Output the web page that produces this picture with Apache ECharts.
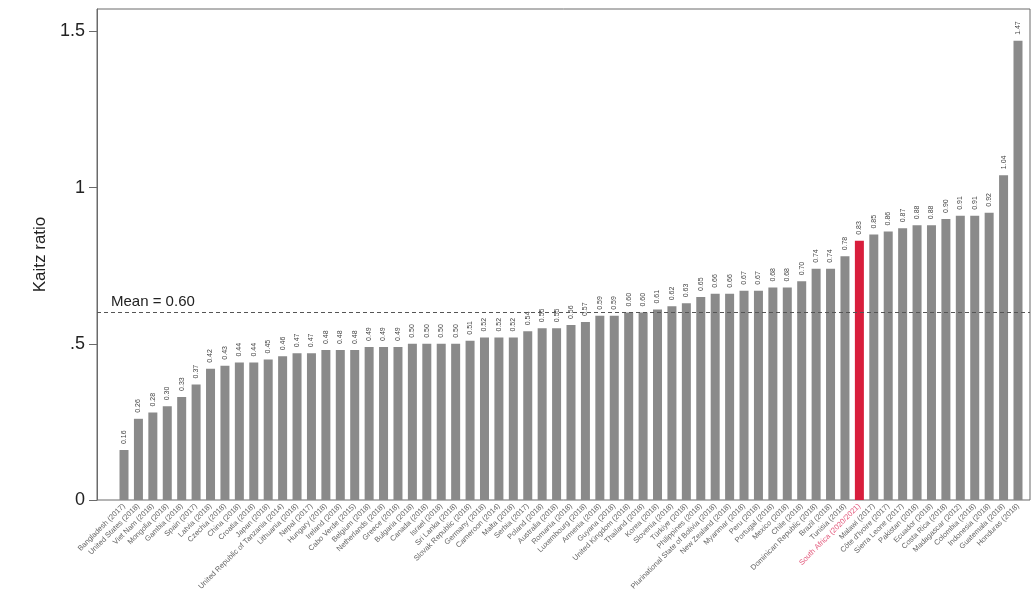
<!DOCTYPE html>
<html><head><meta charset="utf-8">
<script src="https://cdn.jsdelivr.net/npm/echarts@6/dist/echarts.min.js"></script>
<style>html,body{margin:0;padding:0;background:#fff}#c{width:1035px;height:606px}</style>
</head><body><div id="c"></div>
<script>
const countries = [
 "Bangladesh (2017)","United States (2018)","Viet Nam (2018)","Mongolia (2018)","Gambia (2018)",
 "Spain (2017)","Latvia (2018)","Czechia (2018)","China (2018)","Croatia (2018)",
 "Japan (2018)","United Republic of Tanzania (2014)","Lithuania (2018)","Nepal (2017)","Hungary (2018)",
 "Ireland (2018)","Cabo Verde (2015)","Belgium (2018)","Netherlands (2018)","Greece (2018)",
 "Bulgaria (2018)","Canada (2018)","Israel (2018)","Sri Lanka (2018)","Slovak Republic (2018)",
 "Germany (2018)","Cameroon (2014)","Malta (2018)","Serbia (2017)","Poland (2018)",
 "Australia (2018)","Romania (2018)","Luxembourg (2018)","Armenia (2018)","Guyana (2018)",
 "United Kingdom (2018)","Thailand (2018)","Korea (2018)","Slovenia (2018)","Türkiye (2018)",
 "Philippines (2018)","Plurinational State of Bolivia (2018)","New Zealand (2018)","Myanmar (2018)","Peru (2018)",
 "Portugal (2018)","Mexico (2018)","Chile (2018)","Dominican Republic (2018)","Brazil (2018)",
 "Tunisia (2018)","South Africa (2020/2021)","Malawi (2017)","Côte d'Ivoire (2017)","Sierra Leone (2017)",
 "Pakistan (2018)","Ecuador (2018)","Costa Rica (2018)","Madagascar (2012)","Colombia (2018)",
 "Indonesia (2018)","Guatemala (2018)","Honduras (2018)"
];
const kaitz = [
 0.16,0.26,0.28,0.30,0.33,0.37,0.42,0.43,0.44,0.44,
 0.45,0.46,0.47,0.47,0.48,0.48,0.48,0.49,0.49,0.49,
 0.50,0.50,0.50,0.50,0.51,0.52,0.52,0.52,0.54,0.55,
 0.55,0.56,0.57,0.59,0.59,0.60,0.60,0.61,0.62,0.63,
 0.65,0.66,0.66,0.67,0.67,0.68,0.68,0.70,0.74,0.74,
 0.78,0.83,0.85,0.86,0.87,0.88,0.88,0.90,0.91,0.91,
 0.92,1.04,1.47
];
const highlight = "South Africa (2020/2021)";
const meanValue = 0.60;
const yTicks = [0, 0.5, 1, 1.5];
const yTickLabels = ["0", ".5", "1", "1.5"];

const FONT = "'Liberation Sans', Arial, Helvetica, sans-serif";
const YMAX = 1.572;
const GRID_TOP = 9, GRID_BOTTOM = 106;

const chart = echarts.init(document.getElementById('c'), null, {renderer:'canvas'});
const catData = countries.map(c => c === highlight
  ? {value:c, textStyle:{color:'#e2577a'}} : c);
const barData = kaitz.map((v,i) => countries[i] === highlight
  ? {value:v, itemStyle:{color:'#d81e3c'}} : v);

chart.setOption({
  animation:false,
  backgroundColor:'#fff',
  grid:[
    {left:97, right:5, top:GRID_TOP, bottom:GRID_BOTTOM, show:true, borderColor:'#6a6a6a', borderWidth:1},
    {left:116.8, right:9.8, top:GRID_TOP, bottom:GRID_BOTTOM}
  ],
  xAxis:[
    {gridIndex:0, type:'value', min:0, max:1, show:false},
    {gridIndex:1, type:'category', data:catData,
     axisLine:{show:false}, axisTick:{show:false},
     axisLabel:{interval:0, rotate:45, fontSize:7.5, color:'#666', fontFamily:FONT, margin:5}}
  ],
  yAxis:[
    {gridIndex:0, type:'value', min:0, max:YMAX,
     name:'Kaitz ratio', nameLocation:'middle', nameGap:47, nameRotate:90,
     nameTextStyle:{fontSize:17, color:'#222', fontFamily:FONT},
     axisLine:{show:true, lineStyle:{color:'#6a6a6a', width:1}},
     axisTick:{show:true, length:8, customValues:yTicks, lineStyle:{color:'#6a6a6a'}},
     axisLabel:{customValues:yTicks, fontSize:18, color:'#222', fontFamily:FONT, margin:12,
       formatter:v => { const i = yTicks.indexOf(v); return i >= 0 ? yTickLabels[i] : ''; }},
     splitLine:{show:false}
    },
    {gridIndex:1, type:'value', min:0, max:YMAX, show:false}
  ],
  series:[
    {type:'line', xAxisIndex:0, yAxisIndex:0, data:[], silent:true,
     markLine:{symbol:['none','none'], silent:true,
       lineStyle:{type:[4,3], color:'#555', width:1},
       label:{show:true, position:'insideStartTop', formatter:'Mean = ' + meanValue.toFixed(2),
              fontSize:15, color:'#222', fontFamily:FONT, distance:[14,3]},
       data:[{yAxis:meanValue}]}
    },
    {type:'bar', xAxisIndex:1, yAxisIndex:1, data:barData, barWidth:9,
     itemStyle:{color:'#8a8a8a'},
     label:{show:true, position:'top', rotate:90, align:'left', verticalAlign:'middle',
            distance:6, fontSize:7, color:'#444', fontFamily:FONT,
            formatter:p => p.value.toFixed(2)}
    }
  ]
});
</script></body></html>
